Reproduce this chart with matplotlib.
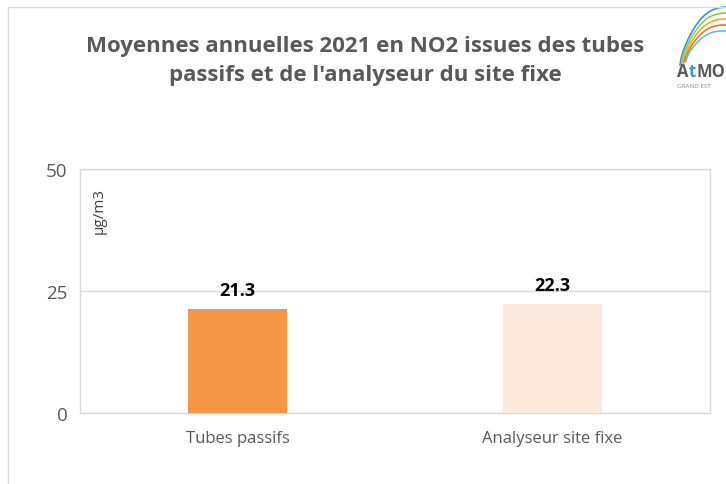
import matplotlib
matplotlib.use("Agg")
import matplotlib.pyplot as plt
from matplotlib.patches import Rectangle
import numpy as np

categories = ["Tubes passifs", "Analyseur site fixe"]
values = [21.3, 22.3]
bar_colors = ["#F79646", "#FCE8DA"]
yticks = [0, 25, 50]
title = "Moyennes annuelles 2021 en NO2 issues des tubes\npassifs et de l'analyseur du site fixe"
unit = "µg/m3"

plt.rcParams['font.family'] = ['Open Sans', 'DejaVu Sans']

W, H = 726, 485
fig = plt.figure(figsize=(W/100, H/100), dpi=100)

# chart frame
fig.patches.append(Rectangle((8/W, -0.01), 1.0, (H-8)/H + 0.01, transform=fig.transFigure,
                             fill=False, edgecolor="#D9D9D9", linewidth=1.0))

ax = fig.add_axes([80/W, (H-414)/H, (710-80)/W, (414-170)/H])
x = np.arange(len(categories))
ax.bar(x, values, width=0.315, color=bar_colors, zorder=3)
ax.set_xlim(-0.5, 1.5)
ax.set_ylim(0, 50)
ax.set_yticks(yticks)
ax.set_yticklabels([str(v) for v in yticks], fontsize=13.5, color="#595959")
ax.set_xticks(x)
ax.set_xticklabels(categories, fontsize=12, color="#595959")
ax.tick_params(axis="both", length=0, pad=9)
ax.tick_params(axis="x", pad=12)
ax.yaxis.grid(True, color="#D9D9D9", linewidth=1.0, zorder=0)
for s in ax.spines.values():
    s.set_color("#D9D9D9")
    s.set_linewidth(1.0)

for xi, v in zip(x, values):
    ax.annotate(f"{v:.1f}", (xi, v), xytext=(0, 7), textcoords="offset points",
                ha="center", va="bottom", fontsize=13, fontweight="bold", color="black")

ax.text(0.03, 0.83, unit, transform=ax.transAxes, rotation=90, ha="center", va="center",
        fontsize=11, color="#404040")

fig.text(365/W, 1 - 61/H, title, ha="center", va="center", fontsize=16,
         fontweight="bold", color="#595959", linespacing=1.5)

# logo approximation
lx = fig.add_axes([666/W, 1-100/H, 60/W, 98/H])
lx.set_xlim(0, 60); lx.set_ylim(100, 2)
lx.axis("off")
cols = ["#2E9BD6", "#9BCB3C", "#F7A823", "#E87722", "#5BC0EB"]
t = np.linspace(0, 1, 40)
for i, c in enumerate(cols):
    x0, y0 = 14 + i*1.5, 66 - i*1.0
    x1, y1 = 60, 8 + i*6
    xs = x0 + (x1 - x0) * t
    ys = y0 + (y1 - y0) * t**0.6 - 10*np.sin(np.pi*t)*(1 - i*0.1)
    lx.plot(xs, ys, color=c, linewidth=1.2)

renderer = fig.canvas.get_renderer()
fs = 12
tA = fig.text(677/W, 1-72/H, "A", fontsize=fs, fontweight="bold", color="#5A5A5A", va="center")
bb = tA.get_window_extent(renderer)
tT = fig.text(bb.x1/W + 0.5/W, 1-72/H, "t", fontsize=fs, fontweight="bold", color="#2E9BD6", va="center")
bb2 = tT.get_window_extent(renderer)
fig.text(bb2.x1/W + 0.5/W, 1-72/H, "MO", fontsize=fs, fontweight="bold", color="#5A5A5A", va="center")
fig.text(677/W, 1-86/H, "GRAND EST", fontsize=4.5, color="#8C8C8C", va="center")

fig.savefig("out.png", dpi=100)
